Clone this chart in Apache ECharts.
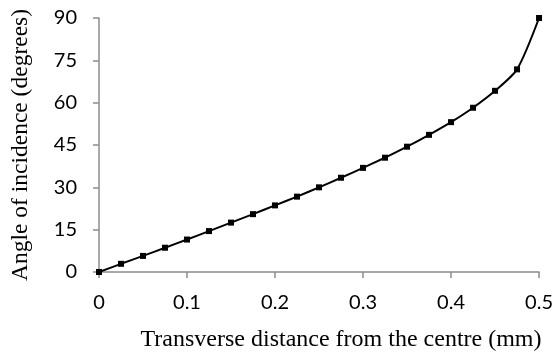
<!DOCTYPE html>
<html>
<head>
<meta charset="utf-8">
<script src="https://cdn.jsdelivr.net/npm/echarts@6/dist/echarts.min.js"></script>
<style>
  html, body { margin: 0; padding: 0; background: #fff; }
  #chart { width: 556px; height: 358px; }
</style>
</head>
<body>
<div id="chart"></div>
<script>
// transverse distance (mm) and angle of incidence (deg)
var distance = [0, 0.025, 0.05, 0.075, 0.1, 0.125, 0.15, 0.175, 0.2, 0.225, 0.25,
                0.275, 0.3, 0.325, 0.35, 0.375, 0.4, 0.425, 0.45, 0.475, 0.5];
var angle = [0, 2.9, 5.7, 8.6, 11.5, 14.5, 17.5, 20.5, 23.6, 26.7, 30,
             33.4, 36.9, 40.5, 44.4, 48.6, 53.1, 58.2, 64.2, 71.8, 90];
var xTicks = [0, 0.1, 0.2, 0.3, 0.4, 0.5];
var yTicks = [0, 15, 30, 45, 60, 75, 90];

var points = [];
for (var i = 0; i < distance.length; i++) {
  points.push([distance[i], angle[i]]);
}

var axisGrey = '#8c8c8c';
var labelFont = 'Lato, "Open Sans", sans-serif';
var titleFont = '"Liberation Serif", "Times New Roman", serif';

var option = {
  animation: false,
  grid: { left: 99, right: 14, top: 18, bottom: 86 },
  xAxis: {
    type: 'value',
    min: xTicks[0],
    max: xTicks[xTicks.length - 1],
    interval: 0.1,
    name: 'Transverse distance from the centre (mm)',
    nameLocation: 'middle',
    nameGap: 56,
    nameTextStyle: { fontFamily: titleFont, fontSize: 24, color: '#000', padding: [0, 0, 0, 44] },
    axisLine: { show: true, lineStyle: { color: axisGrey, width: 1.5 } },
    axisTick: { show: true, inside: false, length: 6, lineStyle: { color: axisGrey, width: 1.5 } },
    axisLabel: { fontFamily: labelFont, fontSize: 20, color: '#000', margin: 21 },
    splitLine: { show: false }
  },
  yAxis: {
    type: 'value',
    min: yTicks[0],
    max: yTicks[yTicks.length - 1],
    interval: 15,
    name: 'Angle of incidence (degrees)',
    nameLocation: 'middle',
    nameGap: 66,
    nameTextStyle: { fontFamily: titleFont, fontSize: 23.5, color: '#000' },
    axisLine: { show: true, lineStyle: { color: axisGrey, width: 1.5 } },
    axisTick: { show: true, inside: false, length: 6, lineStyle: { color: axisGrey, width: 1.5 } },
    axisLabel: { fontFamily: labelFont, fontSize: 20, color: '#000', margin: 22 },
    splitLine: { show: false }
  },
  series: [{
    type: 'line',
    data: points,
    smooth: 0.25,
    symbol: 'rect',
    symbolSize: 6,
    itemStyle: { color: '#000' },
    lineStyle: { color: '#000', width: 2 }
  }]
};

var myChart = echarts.init(document.getElementById('chart'));
myChart.setOption(option);
</script>
</body>
</html>
